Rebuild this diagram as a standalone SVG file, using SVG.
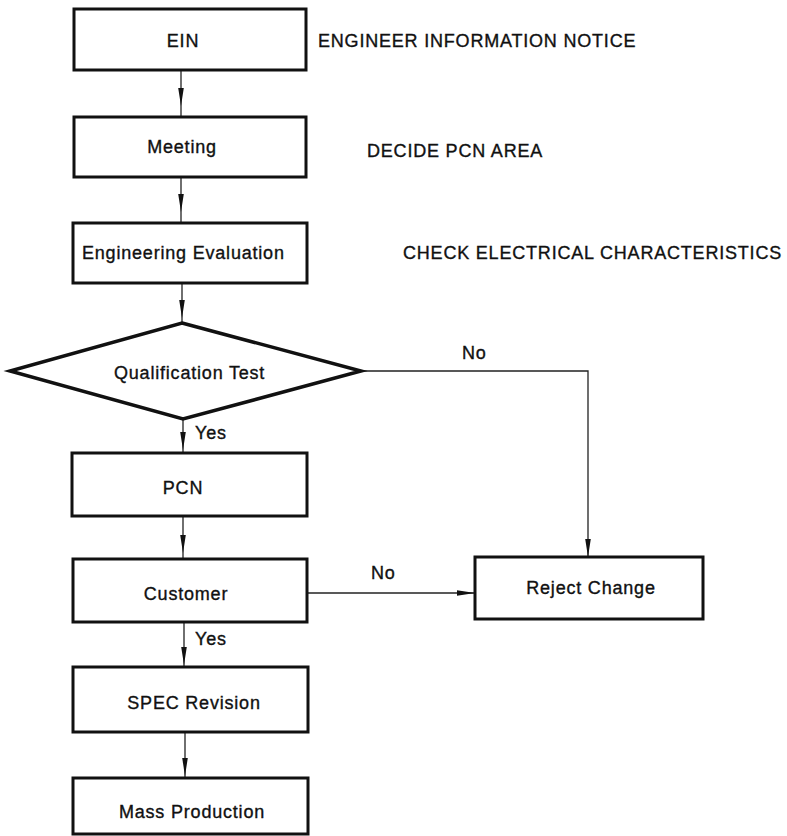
<svg xmlns="http://www.w3.org/2000/svg" width="787" height="836" viewBox="0 0 787 836">
  <style>
    .box { fill: #ffffff; stroke: #111111; stroke-width: 3; }
    .dia { fill: #ffffff; stroke: #111111; stroke-width: 3.5; stroke-linejoin: miter; }
    .lbl { font-family: "Liberation Sans", Arial, sans-serif; font-size: 18px; letter-spacing: 0.8px; fill: #111111; stroke: #111111; stroke-width: 0.35; }
    .mid { text-anchor: middle; }
    .wire { fill: none; stroke: #222222; stroke-width: 1.3; }
    .flow { marker-mid: url(#head); }
    .tip { marker-end: url(#head); }
  </style>
  <defs>
    <marker id="head" markerUnits="userSpaceOnUse" markerWidth="20" markerHeight="8" viewBox="0 -4 20 8" refX="18" refY="0" orient="auto">
      <path d="M0,-2.8 L18,0 L0,2.8 Z" fill="#111111"/>
    </marker>
  </defs>
  <rect width="787" height="836" fill="#ffffff"/>

  <g id="connectors">
    <path class="wire flow" d="M181 70 L181 106 L181 117"/>
    <path class="wire flow" d="M181 177 L181 212 L181 223"/>
    <path class="wire flow" d="M182 283 L182 318 L182 323"/>
    <path class="wire flow" d="M183 419 L183 450 L183 453"/>
    <path class="wire flow" d="M183 516 L183 553 L183 559"/>
    <path class="wire flow" d="M184 622 L184 665 L184 667"/>
    <path class="wire flow" d="M185 732 L185 776 L185 778"/>
    <path class="wire tip" d="M361 371 L588 371 L588 557"/>
    <path class="wire tip" d="M307 593 L475 593"/>
    <text class="lbl" x="462" y="359">No</text>
    <text class="lbl" x="195" y="439">Yes</text>
    <text class="lbl" x="371" y="579">No</text>
    <text class="lbl" x="195" y="645">Yes</text>
  </g>

  <g id="ein">
    <rect class="box" x="74" y="9" width="232" height="61"/>
    <text class="lbl mid" x="183" y="47">EIN</text>
  </g>
  <g id="ein-note">
    <text class="lbl" x="318" y="47">ENGINEER INFORMATION NOTICE</text>
  </g>

  <g id="meeting">
    <rect class="box" x="74" y="117" width="232" height="60"/>
    <text class="lbl mid" x="182" y="153">Meeting</text>
  </g>
  <g id="meeting-note">
    <text class="lbl" x="367" y="157">DECIDE PCN AREA</text>
  </g>

  <g id="evaluation">
    <rect class="box" x="73" y="223" width="234" height="60"/>
    <text class="lbl" x="82" y="259">Engineering Evaluation</text>
  </g>
  <g id="evaluation-note">
    <text class="lbl" x="403" y="259">CHECK ELECTRICAL CHARACTERISTICS</text>
  </g>

  <g id="qualification">
    <polygon class="dia" points="182,323 361,371 183,419 10,371"/>
    <text class="lbl" x="114" y="379">Qualification Test</text>
  </g>

  <g id="pcn">
    <rect class="box" x="72" y="453" width="235" height="63"/>
    <text class="lbl mid" x="183" y="494">PCN</text>
  </g>

  <g id="customer">
    <rect class="box" x="73" y="559" width="234" height="63"/>
    <text class="lbl mid" x="186" y="600">Customer</text>
  </g>

  <g id="reject">
    <rect class="box" x="475" y="557" width="228" height="62"/>
    <text class="lbl mid" x="591" y="594">Reject Change</text>
  </g>

  <g id="spec">
    <rect class="box" x="73" y="667" width="235" height="65"/>
    <text class="lbl mid" x="194" y="709">SPEC Revision</text>
  </g>

  <g id="mass">
    <rect class="box" x="73" y="778" width="235" height="56"/>
    <text class="lbl mid" x="192" y="818">Mass Production</text>
  </g>
</svg>
